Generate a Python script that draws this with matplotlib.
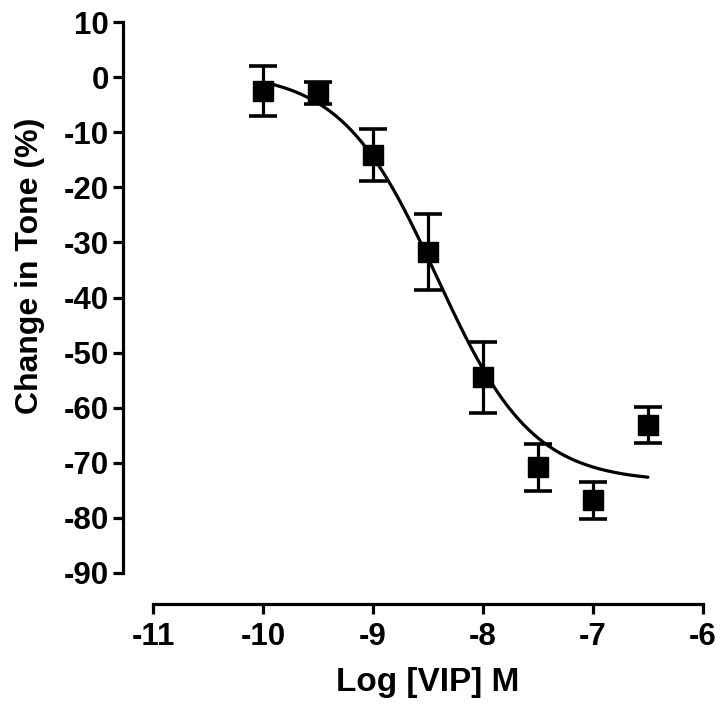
import numpy as np
import matplotlib
matplotlib.use("Agg")
import matplotlib.pyplot as plt

# Relaxation responses to VIP (mean ± SEM)
log_vip = [-10.0, -9.5, -9.0, -8.5, -8.0, -7.5, -7.0, -6.5]
tone_change = [-2.5, -2.8, -14.1, -31.7, -54.5, -70.8, -76.8, -63.2]
tone_sem = [4.6, 2.0, 4.75, 6.85, 6.45, 4.3, 3.35, 3.25]

# Sigmoidal dose-response fit (variable slope)
fit_top = 1.0
fit_bottom = -73.5
fit_log_ec50 = -8.42
fit_hill = 1.0
fit_range = (-10.0, -6.5)

x_ticks = [-11, -10, -9, -8, -7, -6]
y_ticks = [10, 0, -10, -20, -30, -40, -50, -60, -70, -80, -90]

plt.rcParams["font.family"] = ["Liberation Sans", "DejaVu Sans"]
plt.rcParams["font.weight"] = "bold"

W, H = 721, 708
fig = plt.figure(figsize=(W / 100, H / 100), dpi=100)
left_px, right_px, top_px, bottom_px = 123, 703, 22, 604
ax_w = right_px - left_px
ax_h = bottom_px - top_px
ax = fig.add_axes([left_px / W, 1 - bottom_px / H, ax_w / W, ax_h / H])

# axis limits so that the y spine sits left of x=-11 and the x spine below y=-90
px_per_x = (703 - 153) / 5.0
px_per_y = (573 - 22) / 100.0
x_left = -11 - (153 - left_px) / px_per_x
y_bottom = -90 - (bottom_px - 573) / px_per_y
ax.set_xlim(x_left, -6)
ax.set_ylim(y_bottom, 10)

xc = np.linspace(fit_range[0], fit_range[1], 300)
yc = fit_bottom + (fit_top - fit_bottom) / (1 + 10 ** ((xc - fit_log_ec50) * fit_hill))
ax.plot(xc, yc, color="black", lw=2.3, zorder=2, solid_capstyle="round")

ax.errorbar(log_vip, tone_change, yerr=tone_sem, fmt="s", color="black",
            markersize=14, elinewidth=2.3, capsize=10, capthick=2.6,
            zorder=3)

for s in ["top", "right"]:
    ax.spines[s].set_visible(False)
ax.spines["left"].set_bounds(-90, 10)
ax.spines["bottom"].set_bounds(-11, -6)
for s in ["left", "bottom"]:
    ax.spines[s].set_linewidth(2.3)

ax.set_xticks(x_ticks)
ax.set_yticks(y_ticks)
ax.set_xticklabels([str(v) for v in x_ticks])
ax.set_yticklabels([str(v) for v in y_ticks])
ax.tick_params(axis="both", length=7, width=2.3, labelsize=22.5)
ax.tick_params(axis="x", pad=6)
ax.tick_params(axis="y", pad=3)

ax.set_xlabel("Log [VIP] M", fontsize=24, fontweight="bold")
ax.set_ylabel("Change in Tone (%)", fontsize=23, fontweight="bold")
ax.xaxis.set_label_coords((428 - left_px) / ax_w, (bottom_px - 682) / ax_h)
ax.yaxis.set_label_coords((30 - left_px) / ax_w, (bottom_px - 266) / ax_h)
ax.xaxis.label.set_va("center")
ax.yaxis.label.set_va("center")

fig.savefig("out.png", dpi=100)
